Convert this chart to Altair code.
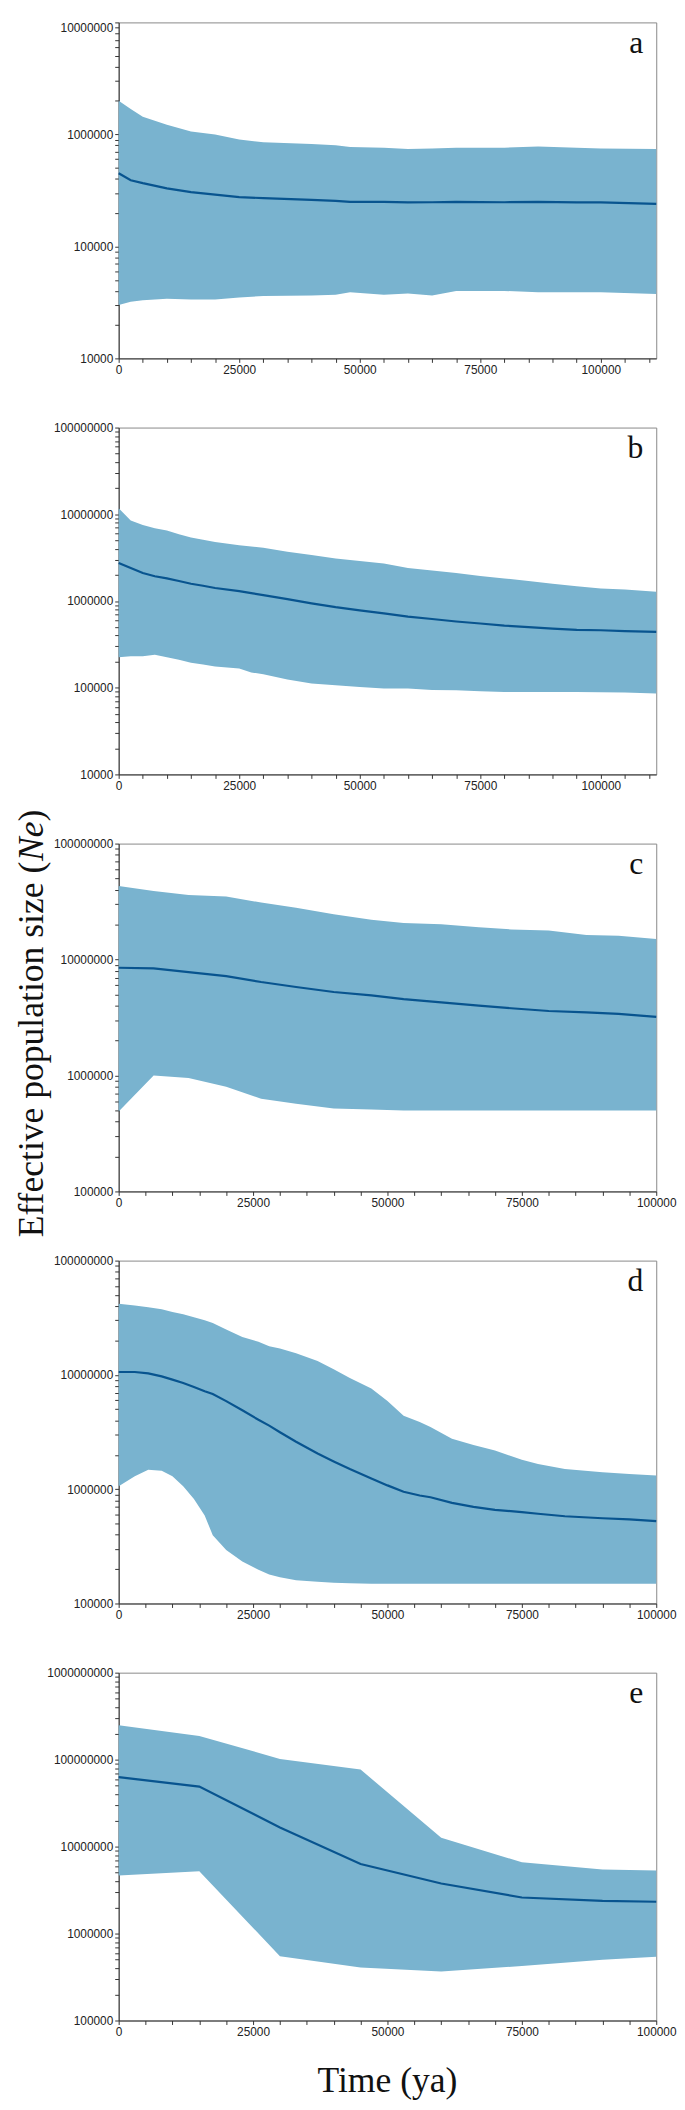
import altair as alt
import pandas as pd

# ---------------- data ----------------
A_TIME = [0, 2500, 5000, 10000, 15000, 20000, 25000, 30000, 40000, 45000, 48000,
          55000, 60000, 65000, 70000, 80000, 87000, 95000, 100000, 111500]
A_UPPER = [2.0e6, 1.69e6, 1.44e6, 1.22e6, 1.06e6, 1.0e6, 9.0e5, 8.5e5, 8.2e5, 8.0e5, 7.7e5,
           7.6e5, 7.4e5, 7.5e5, 7.6e5, 7.6e5, 7.8e5, 7.6e5, 7.5e5, 7.4e5]
A_MEDIAN = [4.5e5, 3.9e5, 3.67e5, 3.3e5, 3.05e5, 2.9e5, 2.75e5, 2.7e5, 2.6e5, 2.55e5, 2.5e5,
            2.5e5, 2.47e5, 2.48e5, 2.5e5, 2.48e5, 2.5e5, 2.47e5, 2.47e5, 2.4e5]
A_LOWER = [3.0e4, 3.2e4, 3.3e4, 3.4e4, 3.35e4, 3.35e4, 3.5e4, 3.6e4, 3.65e4, 3.7e4, 3.9e4,
           3.7e4, 3.8e4, 3.65e4, 4.0e4, 4.0e4, 3.9e4, 3.9e4, 3.9e4, 3.75e4]

B_TIME = [0, 2500, 5000, 7500, 10000, 12500, 15000, 17500, 20000, 25000, 27500, 30000, 35000,
          40000, 45000, 50000, 55000, 60000, 65000, 70000, 75000, 80000, 85000, 90000, 95000,
          100000, 105000, 111500]
B_UPPER = [1.17e7, 8.5e6, 7.5e6, 6.9e6, 6.5e6, 5.9e6, 5.4e6, 5.1e6, 4.8e6, 4.4e6, 4.25e6, 4.1e6,
           3.7e6, 3.4e6, 3.1e6, 2.9e6, 2.7e6, 2.4e6, 2.25e6, 2.1e6, 1.94e6, 1.82e6, 1.7e6,
           1.58e6, 1.48e6, 1.39e6, 1.36e6, 1.28e6]
B_MEDIAN = [2.75e6, 2.4e6, 2.1e6, 1.93e6, 1.82e6, 1.7e6, 1.58e6, 1.5e6, 1.41e6, 1.3e6, 1.23e6,
            1.17e6, 1.05e6, 9.4e5, 8.5e5, 7.8e5, 7.2e5, 6.6e5, 6.2e5, 5.8e5, 5.5e5, 5.2e5,
            5.0e5, 4.8e5, 4.65e5, 4.6e5, 4.5e5, 4.4e5]
B_LOWER = [2.24e5, 2.3e5, 2.3e5, 2.4e5, 2.24e5, 2.1e5, 1.94e5, 1.85e5, 1.76e5, 1.66e5, 1.5e5,
           1.43e5, 1.24e5, 1.12e5, 1.07e5, 1.02e5, 9.8e4, 9.8e4, 9.4e4, 9.35e4, 9.1e4, 8.9e4,
           8.9e4, 8.9e4, 8.9e4, 8.85e4, 8.8e4, 8.6e4]

C_TIME = [0, 6500, 13000, 20000, 26500, 33000, 40000, 47000, 53000, 60000, 67000, 73000,
          80000, 87000, 93000, 100000]
C_UPPER = [4.3e7, 3.9e7, 3.6e7, 3.5e7, 3.1e7, 2.8e7, 2.46e7, 2.2e7, 2.07e7, 2.02e7, 1.9e7,
           1.82e7, 1.78e7, 1.63e7, 1.6e7, 1.5e7]
C_MEDIAN = [8.5e6, 8.4e6, 7.8e6, 7.2e6, 6.4e6, 5.8e6, 5.25e6, 4.9e6, 4.55e6, 4.27e6, 4.0e6,
            3.8e6, 3.6e6, 3.5e6, 3.4e6, 3.2e6]
C_LOWER = [4.9e5, 1.0e6, 9.5e5, 8.0e5, 6.3e5, 5.7e5, 5.2e5, 5.1e5, 5.0e5, 5.0e5, 5.0e5,
           5.0e5, 5.0e5, 5.0e5, 5.0e5, 5.0e5]

D_TIME = [0, 3000, 5500, 8000, 10000, 12000, 14000, 16000, 17500, 20000, 23000, 26000, 28000,
          30000, 33000, 37000, 40000, 43000, 47000, 50000, 53000, 56000, 58000, 62000, 66000,
          70000, 75000, 78000, 83000, 90000, 95000, 100000]
D_UPPER = [4.2e7, 4.05e7, 3.9e7, 3.75e7, 3.55e7, 3.4e7, 3.2e7, 3.0e7, 2.85e7, 2.5e7, 2.15e7,
           1.95e7, 1.78e7, 1.7e7, 1.55e7, 1.32e7, 1.12e7, 9.4e6, 7.6e6, 5.9e6, 4.4e6, 3.87e6,
           3.5e6, 2.76e6, 2.44e6, 2.18e6, 1.81e6, 1.66e6, 1.5e6, 1.41e6, 1.36e6, 1.32e6]
D_MEDIAN = [1.06e7, 1.06e7, 1.03e7, 9.7e6, 9.1e6, 8.5e6, 7.85e6, 7.2e6, 6.8e6, 5.9e6, 4.9e6,
            4.05e6, 3.6e6, 3.15e6, 2.6e6, 2.05e6, 1.75e6, 1.5e6, 1.24e6, 1.08e6, 9.5e5, 8.8e5,
            8.5e5, 7.6e5, 7.0e5, 6.6e5, 6.3e5, 6.1e5, 5.8e5, 5.57e5, 5.45e5, 5.25e5]
D_LOWER = [1.06e6, 1.3e6, 1.48e6, 1.45e6, 1.3e6, 1.06e6, 8.2e5, 5.9e5, 3.95e5, 2.94e5, 2.33e5,
           1.97e5, 1.79e5, 1.7e5, 1.6e5, 1.55e5, 1.52e5, 1.5e5, 1.49e5, 1.49e5, 1.49e5, 1.49e5,
           1.49e5, 1.49e5, 1.49e5, 1.49e5, 1.49e5, 1.49e5, 1.49e5, 1.49e5, 1.49e5, 1.49e5]

E_TIME = [0, 15000, 30000, 45000, 60000, 75000, 90000, 100000]
E_UPPER = [2.48e8, 1.87e8, 1.02e8, 7.7e7, 1.26e7, 6.6e6, 5.45e6, 5.3e6]
E_MEDIAN = [6.3e7, 4.9e7, 1.66e7, 6.3e6, 3.76e6, 2.6e6, 2.38e6, 2.32e6]
E_LOWER = [4.66e6, 5.2e6, 5.5e5, 4.07e5, 3.65e5, 4.24e5, 5.0e5, 5.4e5]

LETTERS = ["a", "b", "c", "d", "e"]
Y_TITLE_MAIN = "Effective population size ("
Y_TITLE_ITALIC = "Ne"
Y_TITLE_END = ")"
X_TITLE = "Time (ya)"

# ---------------- styling ----------------
BAND = "#79b3cf"
LINE = "#08548f"
W = 544
SERIF = "Liberation Serif"
TFS = 36

Y_LABEL_EXPR = ("abs(log(datum.value)/LN10 - round(log(datum.value)/LN10)) < 0.001 "
                "? format(datum.value, 'd') : ''")
X_LABEL_EXPR = "datum.value % 25000 == 0 ? format(datum.value, 'd') : ''"


def log_ticks(lo_exp, hi_exp):
    vals = []
    for e in range(lo_exp, hi_exp):
        for m in range(1, 10):
            vals.append(m * 10 ** e)
    vals.append(10 ** hi_exp)
    return vals


def text_layer(txt, x, y, size, align="left", angle=0, style="normal"):
    return alt.Chart(pd.DataFrame({"t": [txt]})).mark_text(
        font=SERIF, fontSize=size, align=align, baseline="alphabetic",
        angle=angle, fontStyle=style, color="#111"
    ).encode(text="t:N", x=alt.value(x), y=alt.value(y))


def panel(letter, time, lower, median, upper, xmax, lo_exp, hi_exp, h,
          extra=(), top_flush=False):
    df = pd.DataFrame({"time": time, "lower": lower, "median": median, "upper": upper})
    xs = alt.Scale(domain=[0, xmax], nice=False, zero=False)
    ys = alt.Scale(type="log", domain=[10 ** lo_exp, 10 ** hi_exp], nice=False)
    xaxis = alt.Axis(values=list(range(0, int(xmax) + 1, 5000)), labelExpr=X_LABEL_EXPR,
                     title=None, grid=False, labelFlush=False, labelOverlap=False)
    ykw = dict(values=log_ticks(lo_exp, hi_exp), labelExpr=Y_LABEL_EXPR,
               title=None, grid=False, labelOverlap=False)
    if top_flush:
        ykw["labelBaseline"] = {"condition": {"test": f"datum.value >= {10 ** hi_exp}",
                                              "value": "top"},
                                "value": "middle"}
    yaxis = alt.Axis(**ykw)
    base = alt.Chart(df)
    area = base.mark_area(color=BAND, opacity=1).encode(
        x=alt.X("time:Q", scale=xs, axis=xaxis),
        y=alt.Y("lower:Q", scale=ys, axis=yaxis),
        y2="upper:Q",
    )
    line = base.mark_line(color=LINE, strokeWidth=2.2).encode(
        x=alt.X("time:Q", scale=xs, axis=xaxis),
        y=alt.Y("median:Q", scale=ys, axis=yaxis),
    )
    lab = text_layer(letter, W - 13, 31, 32, align="right")
    return alt.layer(area, line, lab, *extra).properties(width=W, height=h)


HEIGHTS = [340, 351, 352, 347, 352]

# y-axis title pieces (Times metrics: main 10.581 em, italic Ne 1.111 em)
yt_x = -77
yt_start = 182 + 12.025 * TFS / 2
yt_ne = yt_start - 10.581 * TFS
yt_end = yt_ne - 1.111 * TFS
ytitle = [
    text_layer(Y_TITLE_MAIN, yt_x, yt_start, TFS, angle=270),
    text_layer(Y_TITLE_ITALIC, yt_x, yt_ne, TFS, angle=270, style="italic"),
    text_layer(Y_TITLE_END, yt_x, yt_end, TFS, angle=270),
]
xtitle = [text_layer(X_TITLE, W / 2, HEIGHTS[4] + 72, TFS, align="center")]

pa = panel(LETTERS[0], A_TIME, A_LOWER, A_MEDIAN, A_UPPER, 111500, 4, 7, HEIGHTS[0],
           top_flush=True)
pb = panel(LETTERS[1], B_TIME, B_LOWER, B_MEDIAN, B_UPPER, 111500, 4, 8, HEIGHTS[1])
pc = panel(LETTERS[2], C_TIME, C_LOWER, C_MEDIAN, C_UPPER, 100000, 5, 8, HEIGHTS[2], ytitle)
pd_ = panel(LETTERS[3], D_TIME, D_LOWER, D_MEDIAN, D_UPPER, 100000, 5, 8, HEIGHTS[3])
pe = panel(LETTERS[4], E_TIME, E_LOWER, E_MEDIAN, E_UPPER, 100000, 5, 9, HEIGHTS[4], xtitle)

chart = alt.vconcat(pa, pb, pc, pd_, pe, spacing=70, bounds="flush").properties(
    padding={"left": 5, "top": 0, "right": 0, "bottom": 0}
).configure_view(
    stroke="#888", strokeWidth=1
).configure_axis(
    domainColor="#333", tickColor="#333", labelFont="Liberation Sans", labelFontSize=12,
    labelColor="#222", tickSize=4, labelPadding=2, domainWidth=1, tickWidth=1
)

chart.save("out.html", embed_options={"renderer": "svg", "actions": False})
